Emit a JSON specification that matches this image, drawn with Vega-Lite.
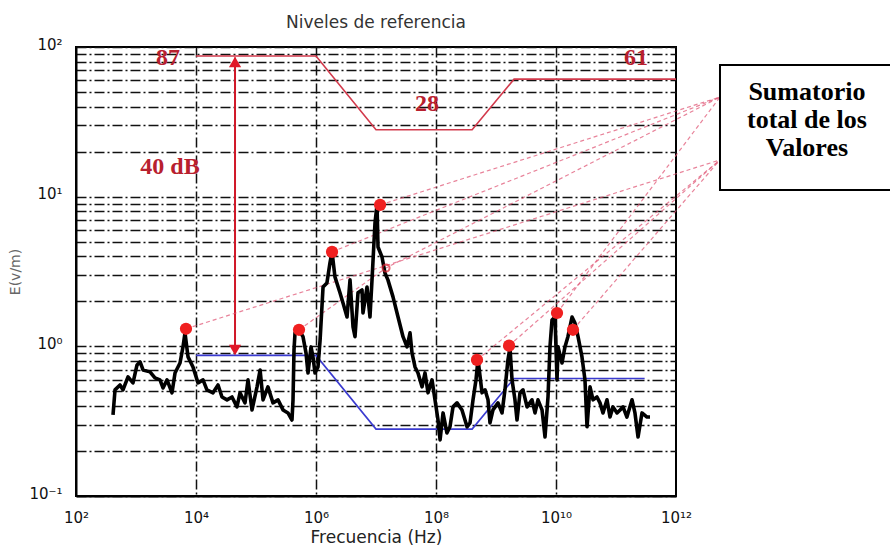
{
  "$schema": "https://vega.github.io/schema/vega-lite/v6.json",
  "width": 600,
  "height": 449,
  "autosize": {"type": "none"},
  "padding": {"left": 76, "top": 47, "right": 214, "bottom": 54},
  "background": "white",
  "config": {"view": {"stroke": "black", "strokeWidth": 2}, "font": "DejaVu Sans"},
  "title": {"text": "Niveles de referencia", "fontSize": 17, "font": "DejaVu Sans", "fontWeight": "normal", "color": "#333", "offset": 5},
  "datasets": {
    "signal": [
      {"f":414,"E":0.348},{"f":447,"E":0.512},{"f":541,"E":0.552},{"f":607,"E":0.512},{"f":736,"E":0.625},
      {"f":891,"E":0.570},{"f":1040,"E":0.751},{"f":1170,"E":0.787},{"f":1310,"E":0.695},{"f":1710,"E":0.675},
      {"f":2070,"E":0.615},{"f":2510,"E":0.597},{"f":2820,"E":0.527},{"f":3290,"E":0.597},{"f":3980,"E":0.489},
      {"f":4470,"E":0.664},{"f":5410,"E":0.774},{"f":6070,"E":0.991},{"f":6560,"E":1.23},{"f":7360,"E":0.850},
      {"f":8910,"E":0.728},{"f":10800,"E":0.570},{"f":13100,"E":0.597},{"f":15200,"E":0.512},{"f":19200,"E":0.489},
      {"f":23300,"E":0.552},{"f":27100,"E":0.459},{"f":32900,"E":0.439},{"f":39800,"E":0.459},{"f":48200,"E":0.394},
      {"f":54100,"E":0.489},{"f":65600,"E":0.419},{"f":73600,"E":0.597},{"f":85800,"E":0.376},{"f":1.04e5,"E":0.536},
      {"f":1.17e5,"E":0.695},{"f":1.31e5,"E":0.439},{"f":1.58e5,"E":0.536},{"f":1.92e5,"E":0.419},{"f":2.33e5,"E":0.439},
      {"f":2.82e5,"E":0.376},{"f":3.41e5,"E":0.359},{"f":3.98e5,"E":0.322},{"f":4.14e5,"E":0.439},{"f":4.30e5,"E":0.946},
      {"f":4.47e5,"E":1.23},{"f":5.21e5,"E":1.29},{"f":6.07e5,"E":1.16},{"f":6.81e5,"E":0.904},{"f":7.36e5,"E":0.664},
      {"f":8.26e5,"E":0.991},{"f":8.91e5,"E":0.850},{"f":9.62e5,"E":0.664},{"f":1.08e6,"E":0.728},{"f":1.17e6,"E":1.10},
      {"f":1.31e6,"E":2.49},{"f":1.52e6,"E":2.65},{"f":1.71e6,"E":3.61},{"f":1.85e6,"E":4.28},{"f":2.07e6,"E":2.91},
      {"f":2.51e6,"E":2.28},{"f":2.82e6,"E":1.95},{"f":3.29e6,"E":1.57},{"f":3.69e6,"E":2.78},{"f":4.14e6,"E":1.35},
      {"f":4.47e6,"E":1.16},{"f":5.01e6,"E":2.28},{"f":5.85e6,"E":2.38},{"f":6.07e6,"E":1.67},{"f":7.08e6,"E":2.49},
      {"f":7.94e6,"E":1.57},{"f":8.58e6,"E":2.78},{"f":9.62e6,"E":6.67},{"f":1.04e7,"E":8.81},{"f":1.08e7,"E":4.61},
      {"f":1.26e7,"E":3.95},{"f":1.41e7,"E":3.09},{"f":1.58e7,"E":2.78},{"f":1.92e7,"E":2.14},{"f":2.33e7,"E":1.57},
      {"f":2.82e7,"E":1.16},{"f":3.29e7,"E":0.991},{"f":3.69e7,"E":1.23},{"f":3.98e7,"E":0.904},{"f":4.47e7,"E":0.728},
      {"f":5.01e7,"E":0.664},{"f":5.85e7,"E":0.536},{"f":6.56e7,"E":0.664},{"f":7.36e7,"E":0.489},{"f":8.58e7,"E":0.597},
      {"f":9.62e7,"E":0.439},{"f":1.08e8,"E":0.322},{"f":1.17e8,"E":0.237},{"f":1.31e8,"E":0.359},{"f":1.52e8,"E":0.264},
      {"f":1.71e8,"E":0.290},{"f":1.92e8,"E":0.394},{"f":2.24e8,"E":0.419},{"f":2.71e8,"E":0.376},{"f":3.29e8,"E":0.290},
      {"f":3.69e8,"E":0.308},{"f":4.14e8,"E":0.439},{"f":4.65e8,"E":0.6},{"f":5.01e8,"E":0.82},{"f":5.85e8,"E":0.489},
      {"f":6.56e8,"E":0.512},{"f":7.36e8,"E":0.439},{"f":7.94e8,"E":0.308},{"f":8.91e8,"E":0.376},{"f":1.08e9,"E":0.419},
      {"f":1.26e9,"E":0.359},{"f":1.41e9,"E":0.512},{"f":1.58e9,"E":0.811},{"f":1.71e9,"E":0.98},{"f":1.85e9,"E":0.597},
      {"f":2.07e9,"E":0.439},{"f":2.24e9,"E":0.322},{"f":2.51e9,"E":0.489},{"f":2.82e9,"E":0.512},{"f":3.29e9,"E":0.394},
      {"f":3.98e9,"E":0.439},{"f":4.47e9,"E":0.359},{"f":5.01e9,"E":0.439},{"f":5.85e9,"E":0.376},{"f":6.56e9,"E":0.248},
      {"f":7.36e9,"E":0.459},{"f":7.94e9,"E":0.991},{"f":8.58e9,"E":1.50},{"f":9.62e9,"E":1.57},{"f":1.04e10,"E":0.597},
      {"f":1.08e10,"E":0.991},{"f":1.26e10,"E":0.774},{"f":1.41e10,"E":0.991},{"f":1.58e10,"E":1.16},{"f":1.85e10,"E":1.57},
      {"f":2.07e10,"E":1.43},{"f":2.33e10,"E":1.16},{"f":2.71e10,"E":0.850},{"f":3.04e10,"E":0.597},{"f":3.29e10,"E":0.290},
      {"f":3.69e10,"E":0.536},{"f":4.14e10,"E":0.439},{"f":4.82e10,"E":0.459},{"f":5.41e10,"E":0.419},{"f":6.07e10,"E":0.359},
      {"f":7.08e10,"E":0.439},{"f":7.94e10,"E":0.337},{"f":8.91e10,"E":0.394},{"f":1.04e11,"E":0.359},{"f":1.17e11,"E":0.376},
      {"f":1.31e11,"E":0.394},{"f":1.52e11,"E":0.337},{"f":1.85e11,"E":0.439},{"f":2.07e11,"E":0.359},{"f":2.33e11,"E":0.248},
      {"f":2.71e11,"E":0.359},{"f":3.29e11,"E":0.337},{"f":3.69e11,"E":0.337}
    ],
    "refs": [
      {"s":"ref","f":1e4,"E":87},{"s":"ref","f":1e6,"E":87},{"s":"ref","f":1e7,"E":28},{"s":"ref","f":4e8,"E":28},{"s":"ref","f":2e9,"E":61},{"s":"ref","f":1e12,"E":61},
      {"s":"low","f":1e4,"E":0.87},{"s":"low","f":1e6,"E":0.87},{"s":"low","f":1e7,"E":0.28},{"s":"low","f":4e8,"E":0.28},{"s":"low","f":2e9,"E":0.61},{"s":"low","f":3e11,"E":0.61}
    ],
    "peaks": [
      {"f":6.81e3,"E":1.31},{"f":5.21e5,"E":1.29},{"f":1.85e6,"E":4.28},{"f":1.17e7,"E":8.81},
      {"f":4.82e8,"E":0.811},{"f":1.65e9,"E":1.01},{"f":1.04e10,"E":1.67},{"f":1.92e10,"E":1.29}
    ],
    "links": [
      {"id":"L1","f":6.81e3,"E":1.31},{"id":"L1","f":5.41e12,"E":17.6},
      {"id":"L2","f":5.21e5,"E":1.29},{"id":"L2","f":1.47e7,"E":3.34},{"id":"L2","f":5.41e12,"E":46.3},
      {"id":"L3","f":1.85e6,"E":4.28},{"id":"L3","f":5.41e12,"E":46.3},
      {"id":"L4","f":1.17e7,"E":8.81},{"id":"L4","f":5.41e12,"E":46.3},
      {"id":"L5","f":4.82e8,"E":0.811},{"id":"L5","f":5.41e12,"E":17.6},
      {"id":"L6","f":1.65e9,"E":1.01},{"id":"L6","f":5.41e12,"E":17.6},
      {"id":"L7","f":1.04e10,"E":1.67},{"id":"L7","f":5.41e12,"E":46.3},
      {"id":"L8","f":1.92e10,"E":1.29},{"id":"L8","f":5.41e12,"E":17.6}
    ],
    "oddticks": [
      {"f":1000},{"f":100000},{"f":10000000},{"f":1000000000},{"f":100000000000}
    ]
  },
  "encoding": {
    "x": {
      "field": "f", "type": "quantitative",
      "scale": {"type": "log", "domain": [100, 1000000000000], "nice": false},
      "axis": {
        "title": "Frecuencia (Hz)",
        "values": [100, 10000, 1000000, 100000000, 10000000000, 1000000000000],
        "labelExpr": "datum.value==100?'10²':datum.value==10000?'10⁴':datum.value==1000000?'10⁶':datum.value==100000000?'10⁸':datum.value==10000000000?'10¹⁰':datum.value==1000000000000?'10¹²':''",
        "grid": true, "gridColor": "#111", "gridDash": [10, 3, 2, 3], "gridWidth": 1.5,
        "gridOpacity": {"condition": {"test": "datum.value==10000||datum.value==1000000||datum.value==100000000||datum.value==10000000000", "value": 1}, "value": 0},
        "ticks": false,
        "domainColor": "black", "domainWidth": 2,
        "labelFontSize": 15, "labelColor": "#111", "labelPadding": 14, "labelFlush": false, "labelOverlap": false,
        "titleFontSize": 17, "titleFontWeight": "normal", "titleColor": "#222", "titlePadding": 4
      }
    },
    "y": {
      "field": "E", "type": "quantitative",
      "scale": {"type": "log", "domain": [0.1, 100], "nice": false},
      "axis": {
        "title": "E(v/m)",
        "values": [0.1,0.2,0.3,0.4,0.5,0.6,0.7,0.8,0.9,1,2,3,4,5,6,7,8,9,10,20,30,40,50,60,70,80,90,100],
        "labelExpr": "datum.value==0.1?'10⁻¹':datum.value==1?'10⁰':datum.value==10?'10¹':datum.value==100?'10²':''",
        "grid": true, "gridColor": "#111", "gridDash": [10, 3, 2, 3], "gridWidth": 1.5,
        "ticks": false, "domainColor": "black", "domainWidth": 2,
        "labelFontSize": 15, "labelColor": "#111", "labelPadding": 14, "labelOffset": -3, "labelOverlap": false,
        "titleFontSize": 14, "titleFontWeight": "normal", "titleColor": "#666", "titlePadding": 6
      }
    }
  },
  "layer": [
    {
      "data": {"name": "oddticks"},
      "mark": {"type": "tick", "orient": "vertical", "color": "black", "thickness": 1.5, "size": 12, "clip": true},
      "encoding": {"y": {"datum": 0.1}}
    },
    {
      "data": {"name": "oddticks"},
      "mark": {"type": "tick", "orient": "vertical", "color": "black", "thickness": 1.5, "size": 12, "clip": true},
      "encoding": {"y": {"datum": 100}}
    },
    {
      "data": {"name": "refs"},
      "mark": {"type": "line", "strokeWidth": 1.6},
      "encoding": {"color": {"field": "s", "type": "nominal", "scale": {"domain": ["ref", "low"], "range": ["#d23a4c", "#3b3bd0"]}, "legend": null}}
    },
    {
      "data": {"values": [{"f": 44700, "E": 85, "E2": 0.95}]},
      "mark": {"type": "rule", "color": "#d01828", "strokeWidth": 2},
      "encoding": {"y2": {"field": "E2"}}
    },
    {
      "data": {"values": [{"f": 44700, "E": 79.4, "s": "triangle-up"}, {"f": 44700, "E": 0.946, "s": "triangle-down"}]},
      "mark": {"type": "point", "filled": true, "color": "#e01828", "opacity": 1, "size": 150},
      "encoding": {"shape": {"field": "s", "type": "nominal", "scale": null}}
    },
    {
      "data": {"name": "links"},
      "mark": {"type": "line", "color": "#e05a78", "strokeWidth": 1.2, "strokeDash": [4, 3], "opacity": 0.75, "clip": false},
      "encoding": {"detail": {"field": "id", "type": "nominal"}}
    },
    {
      "data": {"name": "signal"},
      "mark": {"type": "line", "color": "black", "strokeWidth": 3.6, "strokeJoin": "round"}
    },
    {
      "data": {"name": "peaks"},
      "mark": {"type": "point", "filled": true, "shape": "circle", "color": "#f02020", "opacity": 1, "size": 150}
    },
    {
      "data": {"values": [{"f": 1.47e7, "E": 3.34}]},
      "mark": {"type": "point", "filled": false, "shape": "circle", "color": "#e02030", "strokeWidth": 2, "size": 50}
    },
    {
      "data": {"values": [{"f": 3410, "E": 84.5, "t": "87"}, {"f": 3690, "E": 15.8, "t": "40 dB"}, {"f": 7.08e7, "E": 41.6, "t": "28"}, {"f": 2.15e11, "E": 84.5, "t": "61"}]},
      "mark": {"type": "text", "font": "Liberation Serif", "fontWeight": "bold", "fontSize": 24, "color": "#b8202e", "align": "center", "baseline": "middle"},
      "encoding": {"text": {"field": "t"}}
    },
    {
      "data": {"values": [{"f": 5.41e12, "f2": 1e16, "E": 75.8, "E2": 11.1}]},
      "mark": {"type": "rect", "fill": "white", "stroke": "black", "strokeWidth": 2, "clip": false},
      "encoding": {"x2": {"field": "f2"}, "y2": {"field": "E2"}}
    },
    {
      "data": {"values": [{"f": 1.52e14, "E": 50.0, "t": "Sumatorio"}, {"f": 1.52e14, "E": 32.5, "t": "total de los"}, {"f": 1.52e14, "E": 21.1, "t": "Valores"}]},
      "mark": {"type": "text", "font": "Liberation Serif", "fontWeight": "bold", "fontSize": 26, "color": "black", "align": "center", "baseline": "middle", "clip": false},
      "encoding": {"text": {"field": "t"}}
    }
  ]
}
